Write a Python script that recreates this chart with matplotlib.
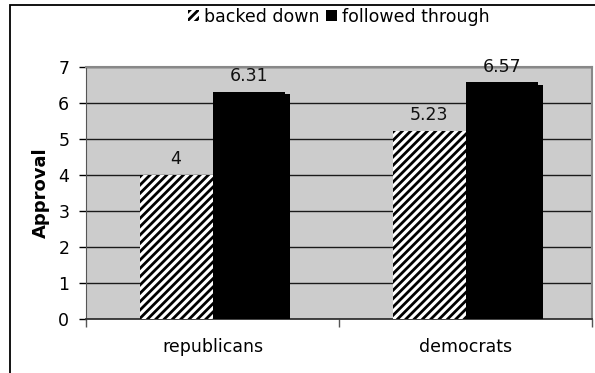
import numpy as np
import matplotlib
matplotlib.use("Agg")
import matplotlib.pyplot as plt
import matplotlib.patches as mpatches
import matplotlib.patheffects as pe

groups = ["republicans", "democrats"]
series = ["backed down", "followed through"]
backed_down = [4.0, 5.23]
followed_through = [6.31, 6.57]

plt.rcParams['font.family'] = ['DejaVu Sans']
plt.rcParams['hatch.linewidth'] = 2.0

fs = 12.5
fig = plt.figure(figsize=(5.95, 3.73), dpi=100)
ax = fig.add_axes([86/595, 1-319/373, (592-86)/595, (319-67)/373])

# outer frame of the chart
fig.patches.append(mpatches.Rectangle((10/595, -0.1), 1.0, 1.1 - 5/373,
                                      transform=fig.transFigure, fill=False,
                                      edgecolor='black', lw=1.3, zorder=0))

x = np.arange(len(groups))
w = 0.288
b1 = ax.bar(x - w/2, backed_down, w, facecolor='white', edgecolor='black',
            hatch='////', lw=0, zorder=3, label=series[0])
b2 = ax.bar(x + w/2, followed_through, w, color='black', lw=0, zorder=3,
            label=series[1])
for p in b2:
    p.set_path_effects([pe.SimplePatchShadow(offset=(3.5, -1.5),
                                             shadow_rgbFace='black', alpha=1.0),
                        pe.Normal()])

for bars, vals in ((b1, backed_down), (b2, followed_through)):
    for p, v in zip(bars, vals):
        ax.annotate(f"{v:g}", (p.get_x() + p.get_width()/2, v),
                    xytext=(0, 5), textcoords='offset points',
                    ha='center', va='bottom', fontsize=fs, color='#111111')

ax.set_facecolor('#cccccc')
ax.set_xlim(-0.5, 1.5)
ax.set_ylim(0, 7)
ax.set_yticks(range(8))
ax.yaxis.grid(True, color='#1a1a1a', lw=1.0, zorder=1)
ax.set_axisbelow(True)
ax.tick_params(axis='y', labelsize=fs, length=5, width=1, direction='out',
               pad=7, colors='black')
ax.set_xticks(x)
ax.set_xticklabels(groups, fontsize=fs)
ax.tick_params(axis='x', length=0, pad=14)
# category separators on the x-axis
ax.set_xticks([-0.5, 0.5, 1.5], minor=True)
ax.tick_params(axis='x', which='minor', length=6, width=1, direction='out',
               color='#555555')
for s in ['top', 'right']:
    ax.spines[s].set_color('#888888')
    ax.spines[s].set_linewidth(1.5)
ax.spines['left'].set_color('#555555')
ax.spines['bottom'].set_color('#333333')
ax.spines['bottom'].set_linewidth(1.3)
ax.set_ylabel("Approval", fontsize=13, fontweight='bold', labelpad=6)

leg = ax.legend(loc='center', bbox_to_anchor=(0.5, (373-17-(373-319))/(319-67)),
                ncol=2, frameon=False, fontsize=fs, handlelength=0.6,
                handleheight=0.6, handletextpad=0.3, columnspacing=0.4,
                borderaxespad=0)
for h in leg.legend_handles:
    h.set_path_effects([])

fig.savefig("out.png", dpi=100)
